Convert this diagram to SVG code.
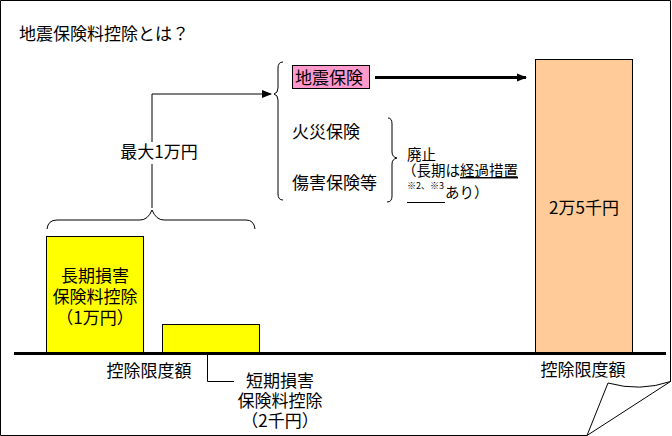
<svg xmlns="http://www.w3.org/2000/svg" width="672" height="436" viewBox="0 0 672 436">
<style>
text{font-family:"Noto Sans CJK JP","Noto Sans CJK SC",sans-serif;fill:#000}
.m{font-size:17px}
.s{font-size:14.5px}
.t{font-size:9px}
.c{text-anchor:middle}
.ln{fill:none;stroke:#000;stroke-width:1}
</style>
<defs>
<marker id="ah" markerWidth="10" markerHeight="10" refX="9" refY="5" orient="auto" markerUnits="userSpaceOnUse">
<path d="M0,1 L10,5 L0,9 Z" fill="#000"/>
</marker>
</defs>
<rect width="672" height="436" fill="#fff"/>
<g id="page">
<path d="M0.5,435.5 V0.5 H670.5 V381.5 Q640,392 608,383 L587,435.5 Z M587,435.5 L670.5,381.5" class="ln"/>
</g>
<text id="title" class="m" x="19" y="40">地震保険料控除とは？</text>
<g id="baseline"><line x1="14" y1="353.5" x2="666" y2="353.5" stroke="#000" stroke-width="3"/></g>
<g id="long-term">
<rect x="46.5" y="236.5" width="97" height="116" fill="#ffff00" stroke="#000"/>
<text class="m c" x="95" y="282">長期損害</text>
<text class="m c" x="95" y="303">保険料控除</text>
<text class="m c" x="95" y="324">（1万円）</text>
</g>
<g id="short-term">
<rect x="162.5" y="324.5" width="97" height="28" fill="#ffff00" stroke="#000"/>
<text class="m c" x="280" y="387">短期損害</text>
<text class="m c" x="280" y="407">保険料控除</text>
<text class="m c" x="280" y="427">（2千円）</text>
</g>
<text id="limit-left" class="m c" x="149" y="377">控除限度額</text>
<g id="earthquake-total">
<rect x="535.5" y="59.5" width="97" height="293" fill="#ffcc99" stroke="#000"/>
<text class="m c" x="584" y="214">2万5千円</text>
</g>
<text id="limit-right" class="m c" x="583" y="376">控除限度額</text>
<g id="earthquake">
<rect x="292.5" y="65.5" width="77" height="23" fill="#ff99cc" stroke="#000"/>
<text class="m" x="295" y="83.5">地震保険</text>
</g>
<text id="fire" class="m" x="292" y="138">火災保険</text>
<text id="injury" class="m" x="292" y="189">傷害保険等</text>
<g id="abolished">
<text class="s" x="407" y="160">廃止</text>
<text class="s" x="402" y="176">（長期は<tspan text-decoration="underline">経過措置</tspan></text>
<text class="t" x="407" y="189">※2、※3</text>
<line x1="407" y1="202.5" x2="445" y2="202.5" stroke="#000"/>
<text class="s" x="445" y="198">あり）</text>
</g>
<g id="connectors">
<path d="M152,208 V94 H271" class="ln" stroke-width="2" marker-end="url(#ah)"/>
<rect x="116" y="142" width="86" height="22" fill="#fff"/>
<text class="m c" x="159" y="158">最大1万円</text>
<path d="M47,229 Q48,220 57,220 H140 Q148,220 152,210 Q156,220 164,220 H246 Q254,220 255,229" class="ln"/>
<path d="M283,62 Q278,62 278,68 V88 Q278,93 274,94 Q278,95 278,100 V194 Q278,200 283,200" class="ln"/>
<path d="M388,118 Q392,118 392,124 V152 Q392,157 397,158 Q392,159 392,164 V196 Q392,202 387,202" class="ln"/>
<line x1="375" y1="77.5" x2="526" y2="77.5" stroke="#000" stroke-width="3" marker-end="url(#ah)"/>
<path d="M207.5,355 V381.5 H234" class="ln"/>
</g>
</svg>
